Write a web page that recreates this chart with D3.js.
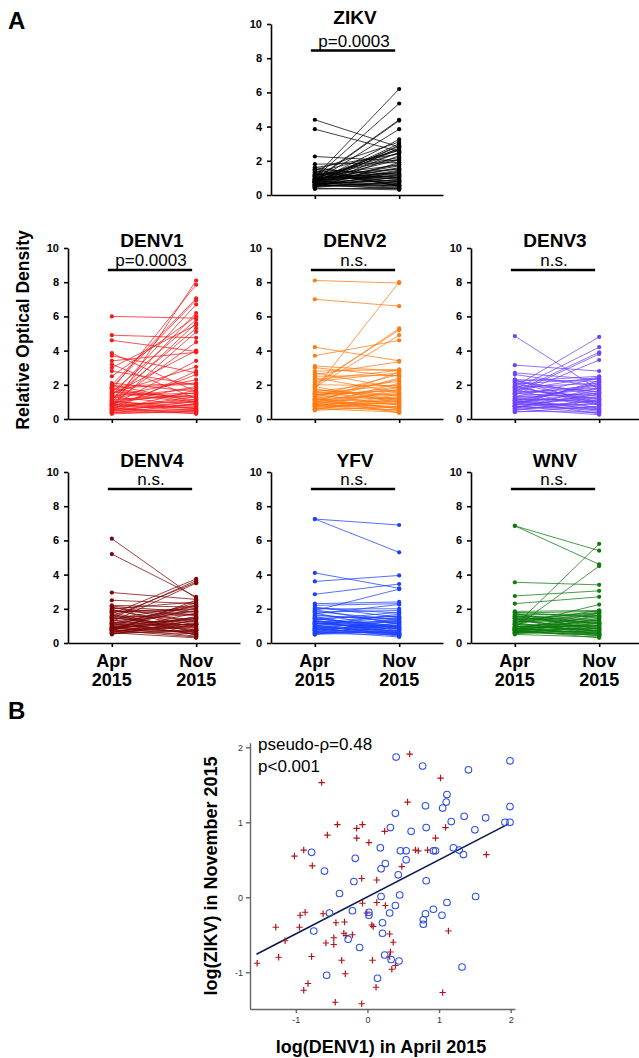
<!DOCTYPE html>
<html>
<head>
<meta charset="utf-8">
<script src="https://cdn.jsdelivr.net/npm/d3@7"></script>
<style>
  body { margin: 0; background: #fff; }
  svg { display: block; font-family: "Liberation Sans", Arial, Helvetica, sans-serif; }
</style>
</head>
<body>
<svg id="fig" width="639" height="1058"></svg>
<script>
// ---- Panel A data: [April 2015, November 2015] optical density per subject ----
var timepoints = ['Apr', 'Nov'];
var timeLabels = [['Apr', '2015'], ['Nov', '2015']];
var yTicks = [0, 2, 4, 6, 8, 10];

var zikv = [[4.4,2.8],[3.85,2.55],[2.25,2.0],[1.8,1.9],[1.6,2.4],[1.5,1.2],[1.45,3.1],[1.4,0.9],[1.3,2.6],[1.25,1.0],[1.2,1.5],[1.15,2.2],[1.1,0.8],[1.05,6.2],[1.0,1.3],[1.0,5.35],[0.95,0.7],[0.95,2.7],[0.9,4.4],[0.9,1.1],[0.85,4.35],[0.85,0.6],[0.8,3.85],[0.8,1.8],[0.8,0.5],[0.75,3.25],[0.75,1.6],[0.7,3.0],[0.7,0.45],[0.7,2.9],[0.65,1.4],[0.65,0.9],[0.6,2.75],[0.6,0.35],[0.55,2.5],[0.55,1.05],[0.5,2.3],[0.5,0.6],[0.45,1.9],[0.4,0.3],[1.35,0.75],[1.1,2.1],[0.9,1.7],[0.8,2.65],[0.7,0.55],[0.95,1.25],[1.0,2.45],[0.6,0.4],[0.85,1.15],[0.75,2.85],[1.2,0.65],[0.5,1.35],[0.65,0.85],[1.5,0.5],[0.9,2.05],[1.05,0.95],[0.7,1.45],[0.55,0.7],[0.8,1.55],[0.35,0.4],[1.15,1.75],[0.6,1.2],[1.3,0.55],[0.45,0.8],[1.6,1.0]];

var denv1 = [[6.0,5.9],[4.9,4.75],[4.6,3.95],[3.85,1.6],[3.7,2.7],[3.4,3.9],[3.2,1.2],[3.0,5.5],[2.8,2.0],[2.5,6.0],[2.1,1.6],[2.0,7.05],[1.9,2.1],[1.85,6.95],[1.8,1.1],[1.7,7.85],[1.6,0.9],[1.55,5.8],[1.5,3.05],[1.4,1.5],[1.35,6.7],[1.3,0.8],[1.2,5.3],[1.15,1.4],[1.1,6.2],[1.05,0.6],[1.0,5.6],[0.95,1.9],[0.9,4.5],[0.85,1.0],[0.8,3.4],[0.8,0.5],[0.75,5.1],[0.7,0.7],[0.7,2.6],[0.65,1.3],[0.6,8.1],[0.6,0.4],[0.55,2.8],[0.5,1.7],[0.5,0.55],[0.45,1.05],[0.4,0.35],[0.35,0.9],[0.3,0.45],[1.25,1.8],[0.9,0.65],[1.6,1.25],[0.7,1.15],[1.0,0.75],[0.55,0.85],[1.8,2.05],[0.4,0.5],[1.1,1.35],[0.85,0.6],[2.0,1.0],[0.65,0.3],[1.45,4.0],[1.3,2.3],[0.95,1.55],[1.75,0.95]];

var denv2 = [[8.1,7.95],[7.0,6.6],[4.2,3.4],[3.7,4.6],[3.1,2.8],[3.0,2.5],[2.8,2.9],[2.7,1.8],[2.6,3.35],[2.2,2.7],[2.05,5.2],[1.95,5.3],[1.85,4.9],[1.75,8.0],[1.7,1.4],[1.6,2.2],[1.55,1.1],[1.5,2.0],[1.45,0.8],[1.4,1.7],[1.35,2.6],[1.3,1.2],[1.25,0.6],[1.2,1.9],[1.15,1.0],[1.1,1.5],[1.05,2.4],[1.0,0.7],[1.0,1.3],[0.95,0.9],[0.9,1.6],[0.9,0.5],[0.85,1.1],[0.8,2.1],[0.8,0.45],[0.75,1.25],[0.7,0.85],[0.7,1.75],[0.65,0.55],[0.6,1.05],[0.6,0.4],[0.55,1.45],[0.5,0.75],[2.4,1.55],[1.9,0.95],[1.3,2.3],[1.0,1.85],[0.85,0.65],[1.6,1.35],[1.15,0.6],[2.3,2.85],[1.75,1.15],[0.95,2.75],[0.75,0.95],[1.45,1.65],[1.2,0.35],[2.0,1.95],[0.55,1.2],[2.5,2.55]];

var denv3 = [[4.85,1.7],[3.15,2.8],[2.7,2.3],[2.6,1.9],[2.3,2.2],[2.25,1.4],[2.2,2.5],[2.1,1.0],[2.05,2.35],[2.0,1.6],[1.95,0.8],[1.9,4.8],[1.85,2.1],[1.8,1.2],[1.75,4.2],[1.7,0.6],[1.6,3.9],[1.55,1.8],[1.5,3.8],[1.45,2.0],[1.4,3.45],[1.35,0.9],[1.3,2.4],[1.25,1.5],[1.2,0.5],[1.15,1.1],[1.1,1.95],[1.05,0.7],[1.0,1.3],[1.0,2.05],[0.95,0.45],[0.9,1.65],[0.85,0.85],[0.8,1.25],[0.8,2.25],[0.75,0.35],[0.7,1.05],[0.7,1.45],[0.65,0.65],[0.6,1.85],[0.6,0.25],[0.55,0.95],[0.5,1.15],[0.45,0.4],[0.4,0.75],[1.3,1.75],[1.65,1.35],[1.9,0.95],[2.15,1.55],[1.1,0.3],[0.9,2.15],[1.7,2.45],[1.2,1.0],[0.75,0.55],[1.5,1.2],[2.3,0.85],[1.0,0.6],[0.65,1.55]];

var denv4 = [[6.1,2.6],[5.2,2.7],[2.95,2.55],[2.5,2.3],[2.2,2.1],[2.15,1.8],[2.1,1.2],[2.0,2.4],[1.95,0.9],[1.9,1.6],[1.85,2.0],[1.8,0.6],[1.7,3.75],[1.6,1.4],[1.55,3.55],[1.5,1.0],[1.45,3.65],[1.4,2.2],[1.35,0.7],[1.3,1.7],[1.25,3.5],[1.2,1.3],[1.15,0.5],[1.1,1.9],[1.05,1.1],[1.0,2.35],[1.0,0.8],[0.95,1.5],[0.9,0.4],[0.9,1.25],[0.85,2.05],[0.85,0.65],[0.8,1.0],[0.8,1.45],[0.75,0.35],[0.75,1.75],[0.7,0.95],[0.7,2.5],[0.65,0.55],[0.65,1.15],[0.6,0.3],[0.6,1.55],[0.55,0.75],[0.5,1.35],[1.95,1.05],[1.7,0.45],[1.4,1.85],[1.15,2.15],[0.95,0.6],[1.6,0.85],[2.05,1.65],[1.25,0.5],[0.8,2.25],[1.05,1.4],[0.7,0.7],[1.8,1.95],[0.9,1.1],[1.5,0.75],[0.55,1.05]];

var yfv = [[7.25,6.9],[7.25,5.3],[4.1,3.2],[3.6,3.95],[2.85,3.45],[2.3,2.4],[2.2,2.3],[2.1,1.5],[2.0,2.0],[1.95,1.1],[1.9,3.15],[1.8,1.9],[1.75,0.8],[1.7,2.25],[1.6,1.4],[1.5,0.6],[1.45,1.55],[1.4,1.0],[1.35,1.8],[1.3,0.5],[1.25,1.2],[1.2,1.6],[1.15,0.9],[1.1,1.3],[1.05,0.45],[1.0,1.05],[1.0,1.7],[0.95,0.7],[0.9,1.25],[0.9,0.4],[0.85,0.95],[0.8,1.45],[0.8,0.55],[0.75,1.15],[0.7,0.35],[0.7,0.85],[0.65,1.35],[0.6,0.65],[0.6,1.0],[0.55,0.5],[0.5,0.75],[0.5,1.2],[1.85,1.35],[1.55,0.7],[1.25,0.95],[1.1,1.5],[0.95,0.6],[1.65,1.25],[1.35,0.55],[0.85,0.45],[1.15,0.8],[0.75,1.05],[1.45,0.9],[0.65,0.6],[1.0,0.5],[2.05,1.75],[0.55,0.9],[1.2,0.65]];

var wnv = [[6.85,4.6],[6.85,5.4],[3.55,3.4],[2.75,3.05],[2.3,2.7],[1.85,1.9],[1.8,1.5],[1.75,1.85],[1.7,1.1],[1.65,1.7],[1.6,0.8],[1.55,1.6],[1.5,1.2],[1.45,0.6],[1.4,1.4],[1.35,1.8],[1.3,0.9],[1.25,1.3],[1.2,0.5],[1.15,1.75],[1.1,1.0],[1.05,2.25],[1.0,0.7],[1.0,5.8],[0.95,1.25],[0.9,0.4],[0.9,4.5],[0.85,1.05],[0.85,1.55],[0.8,0.55],[0.8,1.35],[0.75,0.85],[0.75,0.3],[0.7,1.15],[0.7,0.65],[0.65,1.65],[0.65,0.45],[0.6,0.95],[0.6,1.45],[0.55,0.75],[0.5,0.35],[1.75,0.65],[1.4,0.5],[1.2,1.9],[1.0,0.95],[0.85,0.6],[1.55,1.0],[1.3,1.6],[0.95,0.8],[0.75,1.2],[0.7,0.45],[1.1,0.7],[0.6,0.55],[1.6,1.3],[0.8,1.75],[0.65,0.85],[1.45,1.15],[0.9,0.5],[0.55,1.05]];

// ---- Panel B data: log(DENV1) April vs log(ZIKV) November ----
var circles = [[0.40,1.87],[0.77,1.75],[1.41,1.70],[1.99,1.82],[1.99,1.21],[1.11,1.37],[1.10,1.27],[1.05,1.19],[0.81,1.22],[0.39,1.12],[0.32,0.93],[0.61,0.88],[0.82,0.93],[1.17,1.01],[1.35,1.08],[1.50,0.90],[1.65,1.06],[1.92,1.00],[1.99,1.00],[-0.78,0.60],[-0.60,0.35],[-0.17,0.52],[0.18,0.66],[0.25,0.45],[0.19,0.38],[0.43,0.30],[0.46,0.62],[0.54,0.62],[0.54,0.50],[0.92,0.62],[0.95,0.62],[1.20,0.66],[1.28,0.63],[1.34,0.57],[0.82,0.22],[-0.19,0.21],[-0.39,0.05],[0.19,0.01],[0.45,0.03],[1.51,0.01],[-0.53,-0.21],[-0.21,-0.18],[0.02,-0.20],[0.02,-0.24],[0.31,-0.21],[0.39,-0.11],[0.21,-0.34],[0.21,-0.48],[0.81,-0.22],[0.92,-0.16],[1.04,-0.24],[1.11,-0.07],[0.78,-0.30],[0.78,-0.36],[-0.75,-0.45],[-0.27,-0.56],[-0.11,-0.67],[0.24,-0.77],[0.33,-0.83],[0.44,-0.85],[-0.57,-1.04],[0.14,-1.08],[1.32,-0.93]];

var crosses = [[0.59,1.91],[-0.64,1.53],[1.02,1.59],[0.56,1.27],[-0.42,0.97],[-0.07,0.97],[-0.15,0.92],[0.24,0.88],[1.09,0.93],[-0.56,0.83],[-0.15,0.79],[0.95,0.79],[0.02,0.73],[0.67,0.63],[0.71,0.62],[0.84,0.63],[-1.02,0.55],[-0.89,0.63],[-0.77,0.42],[0.48,0.41],[1.66,0.57],[-0.08,0.25],[0.13,0.23],[-1.54,-0.88],[-1.28,-0.40],[-1.24,-0.80],[-1.15,-0.58],[-0.95,-0.40],[-0.94,-0.24],[-0.87,-0.20],[-0.78,-0.79],[-0.62,-0.22],[-0.58,-0.61],[-0.47,-0.54],[-0.47,-0.63],[-0.44,-0.34],[-0.32,-0.33],[-0.33,-0.48],[-0.30,-0.51],[-0.21,-0.50],[-0.36,-0.84],[-0.31,-1.02],[-0.83,-1.15],[-0.89,-1.24],[-0.45,-1.40],[-0.08,-1.42],[-0.07,-0.08],[-0.01,-0.21],[0.06,-0.37],[0.08,-0.39],[0.13,-0.07],[0.25,-0.11],[0.31,-0.49],[0.36,-0.60],[0.07,-0.84],[0.32,-0.73],[0.31,-0.79],[0.34,-0.96],[0.39,-0.91],[0.12,-1.20],[1.13,-0.45],[1.05,-1.27]];

var fitSlope = 0.494;
var fitIntercept = 0.006;
var fitRange = [-1.55, 1.97];
var scatterTicks = [-1, 0, 1, 2];

// ---- Layout ----
var svg = d3.select('#fig');
var PANEL_H = 171, AXIS_W = 172;

var rows = [
    { top: 24,  titleDy: 0,  barDy: 26.5 },
    { top: 248, titleDy: -1, barDy: 22 },
    { top: 472, titleDy: -5, barDy: 17 }
];

var panels = [
    { name: 'ZIKV',  data: zikv,  color: '#000000', x0: 271, row: 0, label: 'p=0.0003' },
    { name: 'DENV1', data: denv1, color: '#f31b1b', x0: 68,  row: 1, label: 'p=0.0003' },
    { name: 'DENV2', data: denv2, color: '#ff7a12', x0: 271, row: 1, label: 'n.s.' },
    { name: 'DENV3', data: denv3, color: '#6f42ff', x0: 471, row: 1, label: 'n.s.' },
    { name: 'DENV4', data: denv4, color: '#7d0404', x0: 68,  row: 2, label: 'n.s.', xlab: true },
    { name: 'YFV',   data: yfv,   color: '#1a40ff', x0: 271, row: 2, label: 'n.s.', xlab: true },
    { name: 'WNV',   data: wnv,   color: '#0c7a0c', x0: 471, row: 2, label: 'n.s.', xlab: true }
];

function drawPanel(p) {
    var row = rows[p.row];
    var g = svg.append('g').attr('transform', 'translate(' + p.x0 + ',0)');

    var y = d3.scaleLinear().domain([0, 10]).range([row.top + PANEL_H, row.top]);
    var x = d3.scalePoint().domain(timepoints).range([0, AXIS_W]).padding(0.52);

    // connecting lines
    g.append('g').selectAll('line')
        .data(p.data)
        .join('line')
        .attr('x1', x('Apr'))
        .attr('x2', x('Nov'))
        .attr('y1', function(d) { return y(d[0]); })
        .attr('y2', function(d) { return y(d[1]); })
        .attr('stroke', p.color)
        .attr('stroke-width', 0.75);

    // dots at both time points
    var dots = [];
    p.data.forEach(function(d) {
        dots.push({ t: 'Apr', v: d[0] });
        dots.push({ t: 'Nov', v: d[1] });
    });
    g.append('g').selectAll('circle')
        .data(dots)
        .join('circle')
        .attr('cx', function(d) { return x(d.t); })
        .attr('cy', function(d) { return y(d.v); })
        .attr('r', 2.1)
        .attr('fill', p.color);

    // axes
    var yAxis = g.append('g')
        .call(d3.axisLeft(y).tickValues(yTicks).tickSize(4).tickSizeOuter(0).tickPadding(5));
    var xAxis = g.append('g')
        .attr('transform', 'translate(0,' + y(0) + ')')
        .call(d3.axisBottom(x).tickSize(4).tickSizeOuter(0).tickFormat(''));
    g.selectAll('.domain, .tick line').attr('stroke', '#000').attr('stroke-width', 1.6);
    yAxis.selectAll('text')
        .attr('fill', '#000')
        .style('font-size', '11px')
        .style('font-weight', 'bold');

    var mid = (x('Apr') + x('Nov')) / 2;

    // title
    g.append('text')
        .attr('x', mid - 2)
        .attr('y', row.top + row.titleDy)
        .attr('text-anchor', 'middle')
        .style('font-size', '19px')
        .style('font-weight', 'bold')
        .text(p.name);

    // significance bar
    var barY = row.top + row.barDy;
    g.append('line')
        .attr('x1', x('Apr') - 4)
        .attr('x2', x('Nov') - 4)
        .attr('y1', barY)
        .attr('y2', barY)
        .attr('stroke', '#000')
        .attr('stroke-width', 2.6);
    g.append('text')
        .attr('x', mid - 3)
        .attr('y', barY - 4)
        .attr('text-anchor', 'middle')
        .style('font-size', '17px')
        .text(p.label);

    // time labels under the bottom row
    if (p.xlab) {
        timepoints.forEach(function(t, i) {
            var lab = g.append('text')
                .attr('x', x(t))
                .attr('text-anchor', 'middle')
                .style('font-size', '18px')
                .style('font-weight', 'bold');
            lab.append('tspan').attr('x', x(t)).attr('y', 667).text(timeLabels[i][0]);
            lab.append('tspan').attr('x', x(t)).attr('y', 686).text(timeLabels[i][1]);
        });
    }
}

panels.forEach(drawPanel);

// shared y label for panel A
svg.append('text')
    .attr('transform', 'translate(29,330) rotate(-90)')
    .attr('text-anchor', 'middle')
    .style('font-size', '17.5px')
    .style('font-weight', 'bold')
    .text('Relative Optical Density');

// panel letters
svg.append('text').attr('x', 8).attr('y', 29)
    .style('font-size', '24px').style('font-weight', 'bold').text('A');
svg.append('text').attr('x', 8).attr('y', 719)
    .style('font-size', '24px').style('font-weight', 'bold').text('B');

// ---- Panel B scatter ----
var sx = d3.scaleLinear().domain([-1.64, 2.06]).range([250, 515]);
var sy = d3.scaleLinear().domain([-1.49, 2.06]).range([1009, 742.8]);
var gb = svg.append('g');

var bx = gb.append('g')
    .attr('transform', 'translate(0,' + sy.range()[0] + ')')
    .call(d3.axisBottom(sx).tickValues(scatterTicks).tickSize(4).tickSizeOuter(0).tickPadding(4)
        .tickFormat(function(d) { return String(d); }));
var by = gb.append('g')
    .attr('transform', 'translate(' + sx.range()[0] + ',0)')
    .call(d3.axisLeft(sy).tickValues(scatterTicks).tickSize(4).tickSizeOuter(0).tickPadding(3)
        .tickFormat(function(d) { return String(d); }));
gb.selectAll('.domain, .tick line').attr('stroke', '#666').attr('stroke-width', 1.4);
gb.selectAll('.tick text').attr('fill', '#333').style('font-size', '9px');

// regression line
gb.append('line')
    .attr('x1', sx(fitRange[0]))
    .attr('y1', sy(fitIntercept + fitSlope * fitRange[0]))
    .attr('x2', sx(fitRange[1]))
    .attr('y2', sy(fitIntercept + fitSlope * fitRange[1]))
    .attr('stroke', '#0d1a4d')
    .attr('stroke-width', 1.6);

gb.append('g').selectAll('path')
    .data(crosses)
    .join('path')
    .attr('transform', function(d) { return 'translate(' + sx(d[0]) + ',' + sy(d[1]) + ')'; })
    .attr('d', 'M-3.2,0H3.2M0,-3.2V3.2')
    .attr('stroke', '#b3141c')
    .attr('stroke-width', 1.2)
    .attr('fill', 'none');

gb.append('g').selectAll('circle')
    .data(circles)
    .join('circle')
    .attr('cx', function(d) { return sx(d[0]); })
    .attr('cy', function(d) { return sy(d[1]); })
    .attr('r', 3.3)
    .attr('fill', 'none')
    .attr('stroke', '#2f4fe6')
    .attr('stroke-width', 1.1);

gb.append('text').attr('x', 258).attr('y', 750)
    .style('font-size', '17px').text('pseudo-\u03C1=0.48');
gb.append('text').attr('x', 258).attr('y', 772)
    .style('font-size', '17px').text('p<0.001');

gb.append('text')
    .attr('transform', 'translate(217,876) rotate(-90)')
    .attr('text-anchor', 'middle')
    .style('font-size', '18px')
    .style('font-weight', 'bold')
    .text('log(ZIKV) in November 2015');
gb.append('text')
    .attr('x', 381)
    .attr('y', 1053)
    .attr('text-anchor', 'middle')
    .style('font-size', '18px')
    .style('font-weight', 'bold')
    .text('log(DENV1) in April 2015');
</script>
</body>
</html>
